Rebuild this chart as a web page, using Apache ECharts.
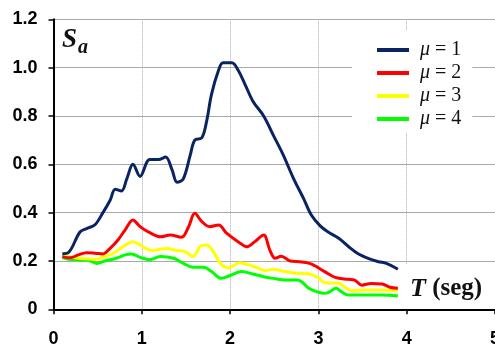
<!DOCTYPE html>
<html>
<head>
<meta charset="utf-8">
<script src="https://cdn.jsdelivr.net/npm/echarts@6/dist/echarts.min.js"></script>
<style>
  html, body { margin: 0; padding: 0; background: #fff; }
  #chart { width: 495px; height: 345px; }
</style>
</head>
<body>
<div id="chart"></div>
<script>
// Spectral acceleration Sa versus period T (s) for ductility factors mu = 1..4
const seriesNames = ['μ = 1', 'μ = 2', 'μ = 3', 'μ = 4'];
const seriesColors = ['#0a2462', '#ff0000', '#ffff00', '#00ff00'];

// [T, Sa] pairs for each ductility factor
const mu1 = [[0.10,0.23],[0.17,0.235],[0.30,0.32],[0.38,0.335],[0.47,0.35],[0.56,0.40],[0.64,0.45],[0.70,0.497],[0.77,0.49],[0.83,0.54],[0.90,0.60],[0.98,0.55],[1.09,0.62],[1.19,0.62],[1.27,0.63],[1.34,0.58],[1.40,0.526],[1.47,0.54],[1.55,0.64],[1.60,0.70],[1.68,0.71],[1.735,0.78],[1.79,0.89],[1.87,0.99],[1.92,1.02],[2.02,1.02],[2.09,0.99],[2.17,0.93],[2.26,0.86],[2.38,0.80],[2.49,0.72],[2.60,0.64],[2.72,0.54],[2.83,0.46],[2.92,0.39],[3.02,0.345],[3.11,0.32],[3.23,0.294],[3.34,0.26],[3.45,0.23],[3.57,0.21],[3.68,0.197],[3.77,0.19],[3.90,0.166]];
const mu2 = [[0.10,0.218],[0.19,0.213],[0.28,0.225],[0.376,0.234],[0.47,0.232],[0.56,0.229],[0.64,0.252],[0.73,0.287],[0.81,0.328],[0.90,0.37],[0.98,0.342],[1.09,0.317],[1.21,0.30],[1.32,0.307],[1.45,0.298],[1.53,0.342],[1.60,0.397],[1.68,0.363],[1.77,0.342],[1.87,0.349],[1.96,0.315],[2.09,0.28],[2.19,0.259],[2.28,0.28],[2.38,0.307],[2.45,0.245],[2.51,0.211],[2.58,0.22],[2.68,0.20],[2.79,0.197],[2.90,0.19],[2.96,0.18],[3.07,0.156],[3.19,0.132],[3.34,0.124],[3.41,0.121],[3.49,0.10],[3.60,0.107],[3.72,0.105],[3.81,0.091],[3.90,0.087]];
const mu3 = [[0.10,0.225],[0.17,0.218],[0.32,0.21],[0.47,0.207],[0.56,0.215],[0.68,0.232],[0.79,0.26],[0.90,0.28],[1.00,0.262],[1.11,0.243],[1.28,0.252],[1.40,0.243],[1.49,0.239],[1.58,0.218],[1.66,0.26],[1.735,0.266],[1.81,0.239],[1.89,0.19],[1.98,0.172],[2.11,0.193],[2.22,0.183],[2.32,0.17],[2.40,0.16],[2.49,0.166],[2.62,0.156],[2.75,0.149],[2.90,0.146],[3.00,0.13],[3.07,0.11],[3.23,0.108],[3.30,0.091],[3.38,0.077],[3.53,0.08],[3.72,0.08],[3.90,0.077]];
const mu4 = [[0.10,0.215],[0.17,0.207],[0.32,0.204],[0.41,0.201],[0.49,0.19],[0.58,0.20],[0.70,0.21],[0.81,0.225],[0.885,0.229],[0.98,0.215],[1.09,0.205],[1.21,0.218],[1.36,0.211],[1.47,0.19],[1.58,0.174],[1.70,0.174],[1.79,0.156],[1.90,0.128],[2.00,0.14],[2.13,0.156],[2.26,0.146],[2.38,0.135],[2.49,0.128],[2.62,0.121],[2.75,0.121],[2.81,0.114],[2.89,0.087],[2.98,0.073],[3.07,0.066],[3.13,0.073],[3.20,0.087],[3.26,0.073],[3.34,0.059],[3.53,0.059],[3.72,0.059],[3.90,0.055]];

// Axis ranges and tick steps
const xTicks = { min: 0, max: 5, step: 1 };
const yTicks = { min: 0, max: 1.2, step: 0.2 };

const sansFont = '"Liberation Sans", Arial, sans-serif';
const serifFont = '"Liberation Serif", "Times New Roman", serif';

const chart = echarts.init(document.getElementById('chart'), null, { renderer: 'canvas' });

const allData = [mu1, mu2, mu3, mu4];

chart.setOption({
  animation: false,
  backgroundColor: '#ffffff',
  grid: { left: 53.5, right: 0, top: 19.3, bottom: 35.7, containLabel: false, outerBoundsMode: 'none' },
  xAxis: {
    type: 'value',
    min: xTicks.min, max: xTicks.max, interval: xTicks.step,
    axisLine: { show: true, onZero: false, lineStyle: { color: '#000', width: 2 } },
    axisTick: { show: true, inside: false, length: 5, lineStyle: { color: '#000', width: 1.5 } },
    axisLabel: { margin: 21, color: '#000', fontFamily: sansFont, fontWeight: 'bold', fontSize: 18,
                 showMaxLabel: true, showMinLabel: true, hideOverlap: false },
    splitLine: { show: true, lineStyle: { color: '#aaaaaa', type: [1, 1], width: 1 } }
  },
  yAxis: {
    type: 'value',
    min: yTicks.min, max: yTicks.max, interval: yTicks.step,
    axisLine: { show: true, onZero: false, lineStyle: { color: '#000', width: 2 } },
    axisTick: { show: true, inside: false, length: 5, lineStyle: { color: '#000', width: 1.5 } },
    axisLabel: { margin: 16, color: '#000', fontFamily: sansFont, fontWeight: 'bold', fontSize: 18,
                 formatter: v => (v === 0 ? '0' : v.toFixed(1)) },
    splitLine: { show: true, lineStyle: { color: '#555555', type: [1, 1], width: 1 } }
  },
  legend: {
    orient: 'vertical',
    left: 352, top: 30,
    padding: [10, 11, 4, 25],
    backgroundColor: '#ffffff',
    itemGap: 3,
    itemWidth: 32, itemHeight: 4,
    icon: 'rect',
    data: seriesNames,
    formatter: name => '{i|μ}' + name.slice(1),
    textStyle: {
      fontFamily: serifFont, fontSize: 20, color: '#111', padding: [0, 0, 0, 6], lineHeight: 20,
      rich: { i: { fontFamily: serifFont, fontStyle: 'italic', fontSize: 20, color: '#111' } }
    }
  },
  graphic: [
    { type: 'rect', z: 1, shape: { x: 402, y: 264, width: 93, height: 44 }, style: { fill: '#ffffff' } },
    {
      type: 'text', z: 10, left: 410, top: 276,
      style: {
        text: '{t|T}{s| (seg)}',
        rich: {
          t: { fontFamily: serifFont, fontStyle: 'italic', fontWeight: 'bold', fontSize: 26, fill: '#111' },
          s: { fontFamily: serifFont, fontWeight: 'bold', fontSize: 25, fill: '#111' }
        }
      }
    },
    {
      type: 'text', z: 10, left: 62, top: 27,
      style: { text: 'S', font: 'italic bold 27px ' + serifFont, fill: '#111' }
    },
    {
      type: 'text', z: 10, left: 78, top: 38,
      style: { text: 'a', font: 'italic bold 20px ' + serifFont, fill: '#111' }
    }
  ],
  series: allData.map((d, i) => ({
    name: seriesNames[i],
    type: 'line',
    data: d,
    smooth: 0.35,
    showSymbol: false,
    symbol: 'none',
    color: seriesColors[i],
    lineStyle: { width: 3, color: seriesColors[i] },
    z: 5 - i
  }))
});
</script>
</body>
</html>
